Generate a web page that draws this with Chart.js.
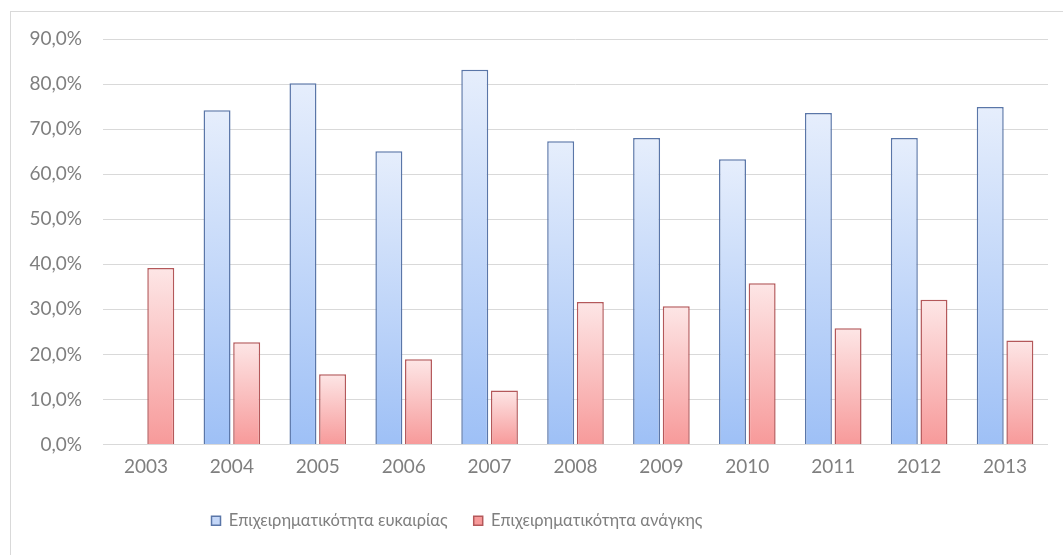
<!DOCTYPE html>
<html>
<head>
<meta charset="utf-8">
<script src="https://cdn.jsdelivr.net/npm/chart.js@4/dist/chart.umd.min.js"></script>
<style>
  html, body { margin: 0; padding: 0; background: #fff; }
  #wrap { position: relative; width: 1063px; height: 555px; }
  #frame { position: absolute; left: 10px; top: 11px; right: 0; bottom: 0;
           border-top: 1px solid #d9d9d9; border-left: 1px solid #d9d9d9; }
  canvas { position: absolute; left: 0; top: 0; }
</style>
</head>
<body>
<div id="wrap">
  <div id="frame"></div>
  <canvas id="chart" width="1063" height="555"></canvas>
</div>
<script>
// categories and values (percent)
const years = ['2003','2004','2005','2006','2007','2008','2009','2010','2011','2012','2013'];
const opportunity = [null, 74.2, 80.2, 65.1, 83.2, 67.3, 68.0, 63.3, 73.6, 68.0, 74.9];
const necessity   = [39.2, 22.7, 15.6, 18.9, 12.0, 31.6, 30.7, 35.8, 25.8, 32.1, 23.1];
const seriesNames = ['Επιχειρηματικότητα ευκαιρίας', 'Επιχειρηματικότητα ανάγκης'];

const FONT = 'Lato, "Open Sans", sans-serif';
const TXT = '#7f7f7f';

// per-bar vertical gradient, light at the top
function barFill(top, bottom, flat) {
  return ctx => {
    const chart = ctx.chart;
    if (!chart.chartArea || ctx.type !== 'data' || ctx.raw == null) return flat;
    const y = chart.scales.y;
    const y0 = y.getPixelForValue(ctx.raw), y1 = y.getPixelForValue(0);
    const g = chart.ctx.createLinearGradient(0, y0, 0, y1);
    g.addColorStop(0, top);
    g.addColorStop(1, bottom);
    return g;
  };
}

// legend in the original sits left of centre
const legendShift = {
  id: 'legendShift',
  afterLayout(chart) {
    if (chart.legend) { chart.legend.left -= 67; chart.legend.right -= 67; }
  },
};

new Chart(document.getElementById('chart'), {
  type: 'bar',
  data: {
    labels: years,
    datasets: [
      {
        label: seriesNames[0], data: opportunity,
        backgroundColor: barFill('#e6eefc', '#9ec0f6', '#c4d7f8'),
        borderColor: '#5a76a8', borderWidth: 1.5,
        categoryPercentage: 0.69, barPercentage: 0.91,
      },
      {
        label: seriesNames[1], data: necessity,
        backgroundColor: barFill('#fde6e6', '#f79a9a', '#f9c2c2'),
        borderColor: '#b4585a', borderWidth: 1.5,
        categoryPercentage: 0.69, barPercentage: 0.91,
      },
    ],
  },
  options: {
    responsive: false,
    animation: false,
    layout: { padding: { left: 0, right: 15, top: 39, bottom: 16 } },
    plugins: {
      tooltip: { enabled: false },
      legend: {
        position: 'bottom',
        labels: { color: TXT, boxWidth: 9, boxHeight: 9, padding: 26, font: { family: FONT, size: 16.5 } },
      },
    },
    scales: {
      x: {
        grid: { display: false, drawTicks: false },
        border: { display: false },
        ticks: { color: TXT, padding: 11, font: { family: FONT, size: 19 } },
        afterFit: s => { s.height = 42; },
      },
      y: {
        min: 0, max: 90,
        grid: { color: '#d9d9d9', drawTicks: false },
        border: { display: false },
        ticks: {
          stepSize: 10, color: TXT, padding: 21, font: { family: FONT, size: 19 },
          callback: v => v.toFixed(1).replace('.', ',') + '%',
        },
        afterFit: s => { s.width = 103; },
      },
    },
  },
  plugins: [legendShift],
});
</script>
</body>
</html>
